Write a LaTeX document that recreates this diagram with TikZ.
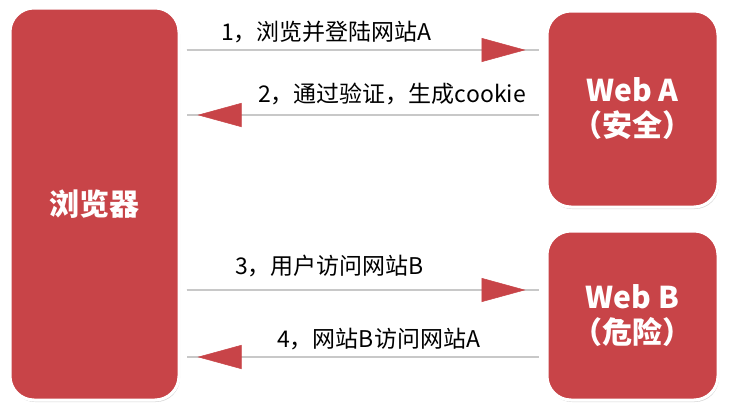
\documentclass[tikz,border=0pt]{standalone}
\usepackage{fontspec}
\setmainfont{Noto Sans CJK SC}
\usetikzlibrary{arrows.meta, shadows}
\definecolor{boxred}{RGB}{200,68,72}
\definecolor{linegray}{RGB}{200,200,200}

\tikzset{
    site/.style={rectangle, rounded corners=24pt, fill=boxred, draw=white, line width=3pt,
        text=white, align=center, font=\fontsize{30}{35}\selectfont\bfseries,
        drop shadow={shadow xshift=1pt, shadow yshift=-2pt, opacity=0.35, fill=black!45}},
    flow/.style={draw=linegray, line width=1.5pt},
    head/.style={postaction={draw=linegray, shorten >=#1,
        -{Triangle[length=44pt, width=24pt, color=boxred, line width=0.5pt]}}},
    step label/.style={anchor=base west, inner sep=0pt, font=\fontsize{23}{26}\selectfont}
}

\begin{document}
\begin{tikzpicture}[x=1pt, y=-1pt]
        \useasboundingbox (0,0) rectangle (732,418);

        \node[site, minimum width=169pt, minimum height=392pt] (browser) at (94.5,204) {浏览器};
        \node[site, minimum width=171pt, minimum height=196pt] (webA) at (632.5,109) {Web A\\（安全）};
        \node[site, minimum width=171pt, minimum height=169pt] (webB) at (632.5,315.5) {Web B\\（危险）};

        % 1, 3: browser -> site ; 2, 4: site -> browser
        \draw[flow, shorten <=6pt, shorten >=7pt, head=20pt] (browser.east |- 0,50) -- (webA.west |- 0,50);
        \draw[flow, shorten <=7pt, shorten >=6pt, head=17pt] (webA.west |- 0,115) -- (browser.east |- 0,115);
        \draw[flow, shorten <=6pt, shorten >=7pt, head=20pt] (browser.east |- 0,290) -- (webB.west |- 0,290);
        \draw[flow, shorten <=7pt, shorten >=6pt, head=17pt] (webB.west |- 0,357) -- (browser.east |- 0,357);

        \node[step label] (l1) at (221,40.5) {1，浏览并登陆网站A};
        \node[step label] (l2) at (258,102.5) {2，通过验证，生成cookie};
        \node[step label] (l3) at (235,274.5) {3，用户访问网站B};
        \node[step label] (l4) at (277,347.5) {4，网站B访问网站A};

    \end{tikzpicture}
\end{document}
